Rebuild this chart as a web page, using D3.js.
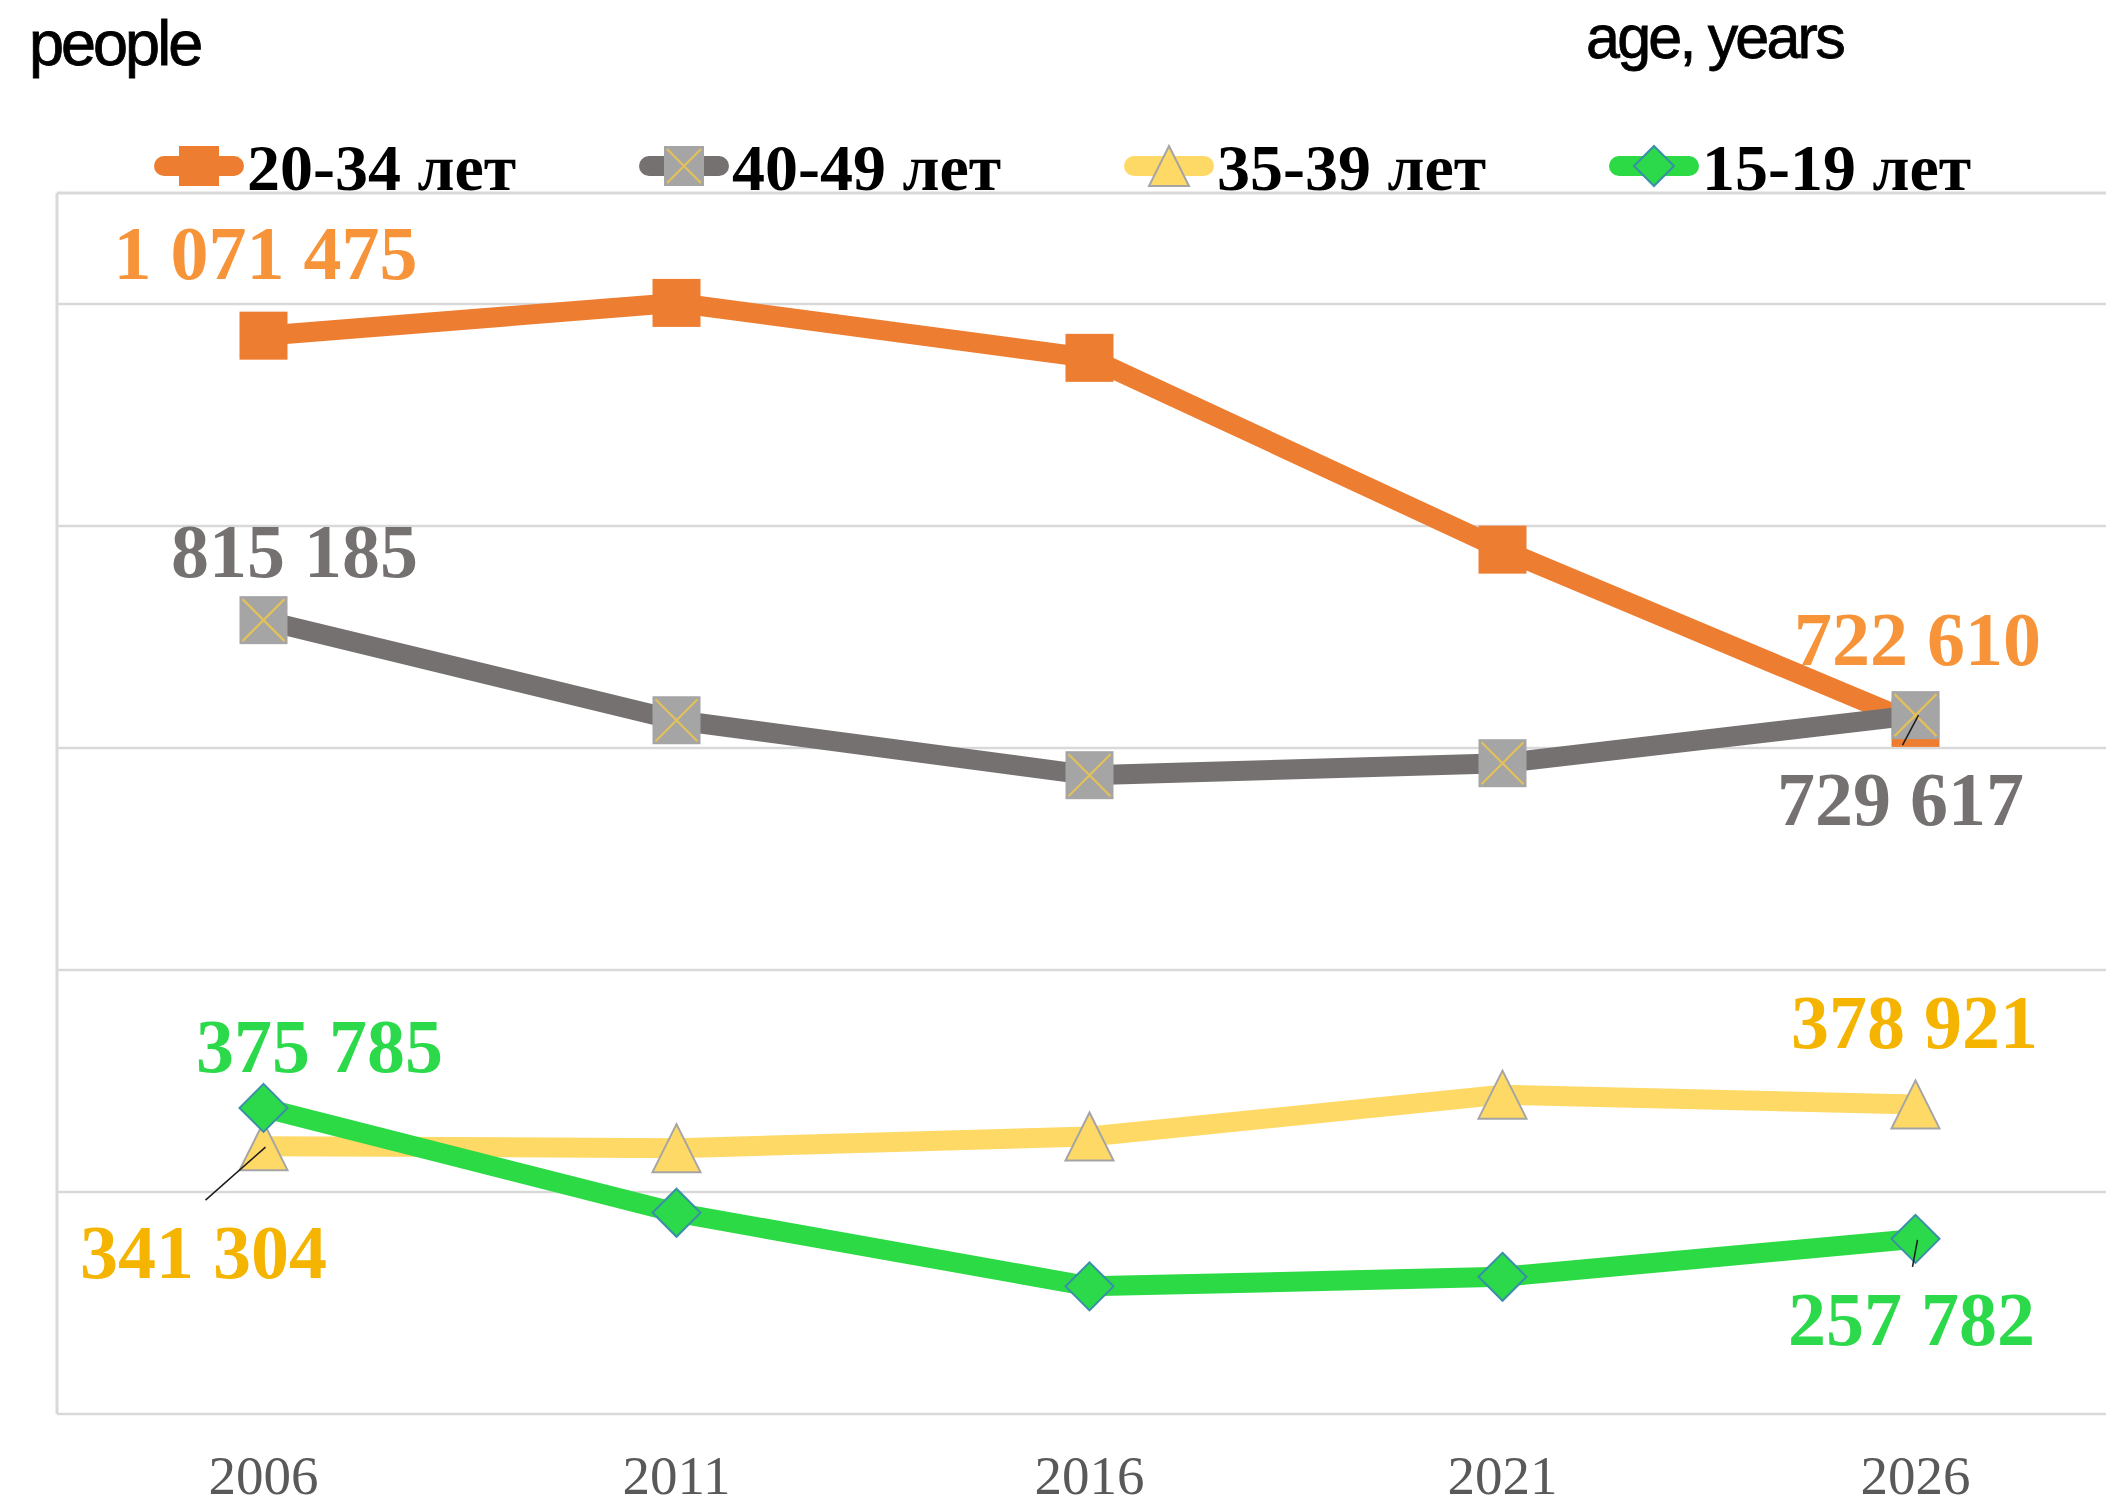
<!DOCTYPE html>
<html>
<head>
<meta charset="utf-8">
<script src="https://cdn.jsdelivr.net/npm/d3@7"></script>
<style>
  html, body { margin: 0; padding: 0; background: #ffffff; }
  svg { display: block; }
</style>
</head>
<body>
<script>
// ---------- DATA ----------
const years = ["2006", "2011", "2016", "2021", "2026"];
const seriesNames = ["20-34 лет", "40-49 лет", "35-39 лет", "15-19 лет"];
const v20_34 = [1071475, 1101000, 1051500, 878700, 722610];
const v40_49 = [815185, 725000, 675500, 686300, 729617];
const v35_39 = [341304, 339500, 350000, 387700, 378921];
const v15_19 = [375785, 281300, 215000, 223600, 257782];
const gridValues = [100000, 300000, 500000, 700000, 900000, 1100000];
const yDomain = [100000, 1200000];
const unitLeft = "people";
const unitRight = "age, years";

// ---------- STYLE ----------
const W = 2106, H = 1507;
const plot = { left: 57, right: 2122, top: 193, bottom: 1414 };
const styles = [
  { line: "#ED7D31", fill: "#ED7D31", stroke: "none", label: "#F7943A", shape: "square" },
  { line: "#767171", fill: "#A5A5A5", stroke: "none", label: "#767171", shape: "squareX" },
  { line: "#FFD966", fill: "#FFD966", stroke: "#A5A5A5", label: "#F4B400", shape: "triangle" },
  { line: "#2BDA45", fill: "#2BD94A", stroke: "#3A8FA8", label: "#2BD94A", shape: "diamond" }
];
// label placement for first / last point: [dx, dy] relative to the point
const labelOffsets = [
  [[2, -57], [2, -58]],
  [[31, -43], [-15, 110]],
  [[-60, 132], [-1, -56]],
  [[56, -36], [-4, 106]]
];
// leader lines (relative to point) or null
const leaders = [
  [null, null],
  [null, [[-13, 30], [3, 0]]],
  [[[-58, 54], [2, 1]], null],
  [null, [[-3, 28], [2, 1]]]
];

const allValues = [v20_34, v40_49, v35_39, v15_19];
const fmt = v => d3.format(",")(v).replace(/,/g, " ");

const svg = d3.select("body").append("svg")
  .attr("width", W).attr("height", H)
  .attr("viewBox", `0 0 ${W} ${H}`);

const x = d3.scaleBand().domain(years).range([plot.left, plot.right]);
const xc = d => x(d) + x.bandwidth() / 2;
const y = d3.scaleLinear().domain(yDomain).range([plot.bottom, plot.top]);

// gridlines
svg.append("g").selectAll("line").data(gridValues).join("line")
  .attr("x1", plot.left).attr("x2", W)
  .attr("y1", d => y(d)).attr("y2", d => y(d))
  .attr("stroke", "#D9D9D9").attr("stroke-width", 2.5);

// plot border (top + left)
svg.append("line").attr("x1", plot.left).attr("x2", W)
  .attr("y1", y(yDomain[1])).attr("y2", y(yDomain[1]))
  .attr("stroke", "#D9D9D9").attr("stroke-width", 3);
svg.append("line").attr("x1", plot.left).attr("x2", plot.left)
  .attr("y1", y(yDomain[1])).attr("y2", y(yDomain[0]))
  .attr("stroke", "#D9D9D9").attr("stroke-width", 3);

// x axis
const xAxis = svg.append("g")
  .attr("transform", `translate(0,${plot.bottom})`)
  .call(d3.axisBottom(x).tickSize(0));
xAxis.select(".domain").remove();
xAxis.selectAll("text")
  .attr("y", 80).attr("dy", 0)
  .attr("font-family", "Liberation Serif, Times New Roman, serif")
  .attr("font-size", 55)
  .attr("fill", "#595959");

// marker drawing
function drawMarker(g, shape, st, size) {
  const h = size / 2;
  if (shape === "square" || shape === "squareX") {
    g.append("rect").attr("x", -h).attr("y", -h).attr("width", size).attr("height", size)
      .attr("fill", st.fill);
    if (shape === "squareX") {
      const k = h - 3;
      g.append("path").attr("d", `M${-k},${-k}L${k},${k}M${k},${-k}L${-k},${k}`)
        .attr("stroke", "#E2C15A").attr("stroke-width", 2.2).attr("fill", "none");
    }
  } else if (shape === "triangle") {
    g.append("path").attr("d", `M0,${-h}L${h},${h}L${-h},${h}Z`)
      .attr("fill", st.fill).attr("stroke", st.stroke).attr("stroke-width", 2);
  } else if (shape === "diamond") {
    g.append("path").attr("d", `M0,${-h}L${h},0L0,${h}L${-h},0Z`)
      .attr("fill", st.fill).attr("stroke", st.stroke).attr("stroke-width", 2);
  }
}

const lineGen = d3.line().x((d, i) => xc(years[i])).y(d => y(d));

allValues.forEach((vals, si) => {
  const st = styles[si];
  const g = svg.append("g");
  g.append("path").datum(vals).attr("d", lineGen)
    .attr("fill", "none").attr("stroke", st.line).attr("stroke-width", 20)
    .attr("stroke-linejoin", "round");
  vals.forEach((v, i) => {
    const m = g.append("g").attr("transform", `translate(${xc(years[i])},${y(v)})`);
    drawMarker(m, st.shape, st, 48);
  });
});

// leader lines + labels (drawn on top)
allValues.forEach((vals, si) => {
  const st = styles[si];
  [0, vals.length - 1].forEach((i, k) => {
    const px = xc(years[i]), py = y(vals[i]);
    const ld = leaders[si][k];
    if (ld) {
      svg.append("line")
        .attr("x1", px + ld[0][0]).attr("y1", py + ld[0][1])
        .attr("x2", px + ld[1][0]).attr("y2", py + ld[1][1])
        .attr("stroke", "#1a1a1a").attr("stroke-width", 1.5);
    }
    const off = labelOffsets[si][k];
    svg.append("text")
      .attr("x", px + off[0]).attr("y", py + off[1])
      .attr("text-anchor", "middle")
      .attr("font-family", "Liberation Serif, Times New Roman, serif")
      .attr("font-weight", "bold")
      .attr("font-size", 76)
      .attr("fill", st.label)
      .text(fmt(vals[i]));
  });
});

// legend
const legend = svg.append("g");
const legendStart = 154, legendStep = 485, legendY = 166;
seriesNames.forEach((name, i) => {
  const st = styles[i];
  const g = legend.append("g").attr("transform", `translate(${legendStart + i * legendStep},${legendY})`);
  g.append("line").attr("x1", 10).attr("x2", 80).attr("y1", 0).attr("y2", 0)
    .attr("stroke", st.line).attr("stroke-width", 20).attr("stroke-linecap", "round");
  const m = g.append("g").attr("transform", "translate(45,0)");
  drawMarker(m, st.shape, st, 40);
  g.append("text").attr("x", 93).attr("y", 24)
    .attr("font-family", "Liberation Serif, Times New Roman, serif")
    .attr("font-weight", "bold").attr("font-size", 66).attr("fill", "#000")
    .text(name);
});

// unit labels
svg.append("text").attr("x", 29).attr("y", 65)
  .attr("font-family", "Liberation Sans, Arial, sans-serif")
  .attr("font-size", 63).attr("letter-spacing", -3).attr("fill", "#000")
  .attr("stroke", "#000").attr("stroke-width", 0.8)
  .text(unitLeft);
svg.append("text").attr("x", 1586).attr("y", 58)
  .attr("font-family", "Liberation Sans, Arial, sans-serif")
  .attr("font-size", 61).attr("letter-spacing", -2.8).attr("fill", "#000")
  .attr("stroke", "#000").attr("stroke-width", 0.8)
  .text(unitRight);
</script>
</body>
</html>
